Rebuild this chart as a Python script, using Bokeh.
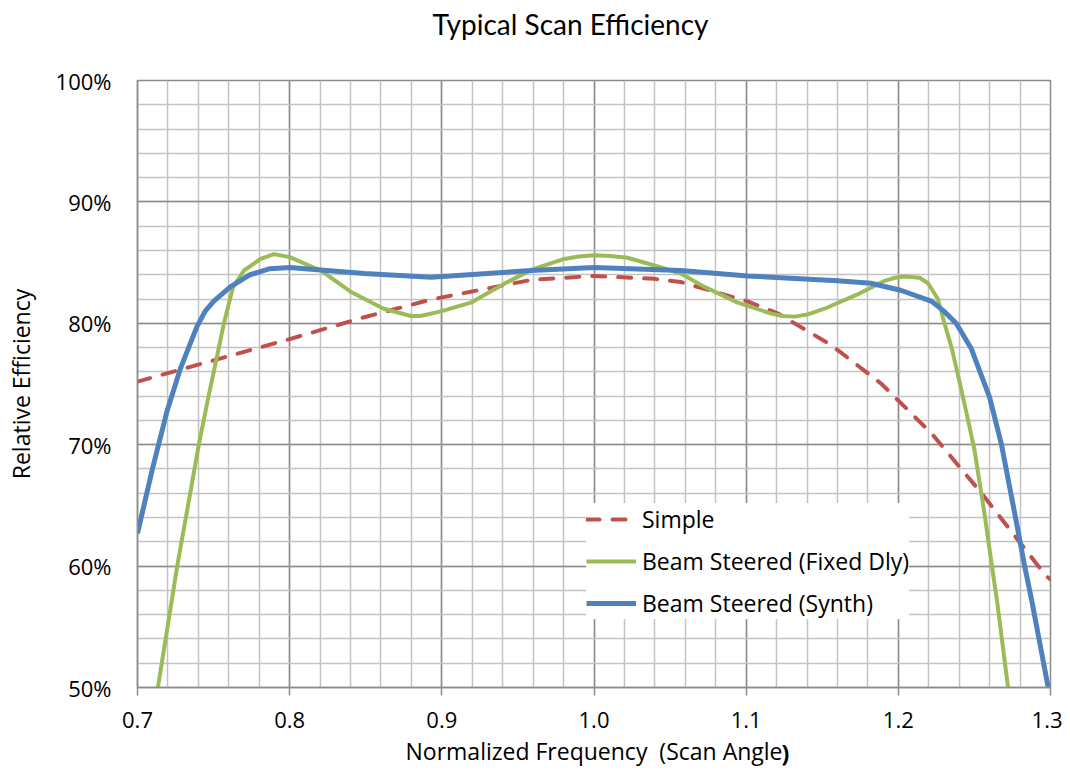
from bokeh.plotting import figure
from bokeh.models import FixedTicker, PrintfTickFormatter, Range1d, Legend, LegendItem, Title, Label
from bokeh.embed import file_html
from bokeh.resources import INLINE

# ---- data ----
simple_x = [0.700, 0.780, 0.800, 0.849, 0.893, 0.919, 0.959, 1.000, 1.040, 1.057,
            1.101, 1.121, 1.156, 1.189, 1.222, 1.255, 1.297, 1.300]
simple_y = [75.2, 78.0, 78.7, 80.5, 81.96, 82.6, 83.58, 83.9, 83.66, 83.4,
            81.8, 80.8, 78.2, 75.0, 70.9, 65.96, 59.2, 58.9]

fixed_x = [0.7134, 0.7261, 0.7403, 0.7467, 0.7518, 0.7568, 0.7628, 0.7700, 0.7809, 0.7897,
           0.800, 0.8204, 0.840, 0.8618, 0.8796, 0.886, 0.900, 0.919, 0.941, 0.9586,
           0.9805, 0.990, 1.000, 1.011, 1.022, 1.0397, 1.057, 1.0726, 1.0945, 1.1164,
           1.124, 1.1318, 1.141, 1.1515, 1.1735, 1.191, 1.198, 1.2042, 1.214, 1.2195,
           1.226, 1.2303, 1.235, 1.240, 1.245, 1.250, 1.257, 1.2615, 1.265, 1.2721]
fixed_y = [50.0, 60.0, 70.0, 74.0, 77.0, 80.0, 83.0, 84.35, 85.3, 85.7,
           85.45, 84.35, 82.6, 81.2, 80.6, 80.6, 81.0, 81.7, 83.25, 84.4,
           85.3, 85.5, 85.6, 85.55, 85.4, 84.76, 84.1, 83.0, 81.7, 80.8,
           80.6, 80.55, 80.75, 81.2, 82.4, 83.5, 83.75, 83.85, 83.75, 83.3,
           82.0, 80.0, 78.0, 75.3, 72.5, 69.6, 64.0, 60.0, 57.0, 50.0]

synth_x = [0.700, 0.710, 0.7195, 0.728, 0.739, 0.7445, 0.750, 0.761, 0.774, 0.787, 0.800,
           0.849, 0.893, 0.9586, 1.000, 1.057, 1.101, 1.160, 1.182, 1.202, 1.222,
           1.230, 1.238, 1.248, 1.260, 1.2678, 1.277, 1.283, 1.2876, 1.2985]
synth_y = [62.7, 68.1, 72.8, 76.2, 79.7, 81.0, 81.8, 83.0, 84.0, 84.5, 84.6,
           84.1, 83.8, 84.35, 84.6, 84.35, 83.9, 83.5, 83.3, 82.7, 81.8,
           81.0, 80.0, 77.9, 73.9, 70.0, 64.0, 60.0, 57.2, 50.0]

x_major = [0.7, 0.8, 0.9, 1.0, 1.1, 1.2, 1.3]
x_minor = [round(0.7 + 0.02 * i, 2) for i in range(31)]
y_major = [50, 60, 70, 80, 90, 100]
y_minor = list(range(50, 101, 2))

title_text = "Typical Scan Efficiency"
xlabel_text = "Normalized Frequency\u00a0 (Scan Angle"
xlabel_end = ")"
ylabel_text = "Relative Efficiency"
names = ["Simple", "Beam Steered (Fixed Dly)", "Beam Steered (Synth)"]

FONT = "Open Sans"
GRID_MAJOR = "#8c8c8c"
GRID_MINOR = "#c3c3c3"

p = figure(frame_width=913, frame_height=607,
           min_border_left=137, min_border_right=12, min_border_top=80, min_border_bottom=79,
           x_range=Range1d(0.7, 1.3), y_range=Range1d(50, 100),
           output_backend="svg", toolbar_location=None, background_fill_color="white",
           border_fill_color="white")

p.title.text = title_text
p.title.align = "left"
p.title.offset = 295
p.title.vertical_align = "top"
p.title.text_font = "Lato"
p.title.text_font_size = "28px"
p.title.text_font_style = "normal"
p.title.text_color = "#000000"
p.title.standoff = 12

# empty spacer between the title and the plot frame
p.add_layout(Title(text=" ", text_font_size="2px", standoff=28), "above")

p.xaxis.ticker = FixedTicker(ticks=x_major, minor_ticks=x_minor)
p.yaxis.ticker = FixedTicker(ticks=y_major, minor_ticks=y_minor)
p.xaxis.formatter = PrintfTickFormatter(format="%.1f")
p.yaxis.formatter = PrintfTickFormatter(format="%d%%")

for ax in (p.xaxis, p.yaxis):
    ax.axis_line_color = GRID_MAJOR
    ax.axis_line_width = 1.5
    ax.major_tick_line_color = GRID_MAJOR
    ax.major_tick_line_width = 1.5
    ax.major_tick_in = 0
    ax.minor_tick_line_color = None
    ax.major_label_text_font = FONT
    ax.major_label_text_font_size = "22px"
    ax.major_label_text_color = "#000000"
    ax.axis_label_text_font = FONT
    ax.axis_label_text_font_size = "23px"
    ax.axis_label_text_font_style = "normal"
    ax.axis_label_text_color = "#000000"

p.xaxis.major_tick_out = 8
p.xaxis.major_label_standoff = 16
p.yaxis.major_tick_out = 0
p.yaxis.major_label_standoff = 22

p.yaxis.axis_label = ylabel_text
p.yaxis.axis_label_standoff = 16

p.xaxis.axis_label = xlabel_text
p.xaxis.axis_label_standoff = 4

# bold closing parenthesis right after the axis title (drawn from the narrow right panel)
p.add_layout(Label(x=-269, y=-65, x_units="screen", y_units="screen", text=xlabel_end,
                   text_align="left", text_baseline="middle", text_font=FONT,
                   text_font_size="23px", text_font_style="bold", text_color="#000000"), "right")

p.xgrid.ticker = FixedTicker(ticks=x_major, minor_ticks=x_minor)
p.ygrid.ticker = FixedTicker(ticks=y_major, minor_ticks=y_minor)
for g in (p.xgrid, p.ygrid):
    g.grid_line_color = GRID_MAJOR
    g.grid_line_width = 1.5
    g.minor_grid_line_color = GRID_MINOR
    g.minor_grid_line_width = 1.5
    g.level = "underlay"
p.outline_line_color = GRID_MAJOR
p.outline_line_width = 1.5

r_simple = p.line(simple_x, simple_y, line_color="#C0504D", line_width=4,
                  line_dash="13 13", line_cap="round", line_join="round")
r_fixed = p.line(fixed_x, fixed_y, line_color="#9BBB59", line_width=4, line_join="round")
r_synth = p.line(synth_x, synth_y, line_color="#4F81BD", line_width=5, line_join="round")

legend = Legend(items=[LegendItem(label=names[0], renderers=[r_simple]),
                       LegendItem(label=names[1], renderers=[r_fixed]),
                       LegendItem(label=names[2], renderers=[r_synth])],
                location=(449, 68), orientation="vertical",
                border_line_color=None, background_fill_color="white", background_fill_alpha=1.0,
                glyph_width=50, glyph_height=28, label_height=28, spacing=10, padding=10,
                label_standoff=6, margin=0,
                label_text_font=FONT, label_text_font_size="23px", label_text_color="#000000")
p.add_layout(legend, "center")

open("out.html", "w").write(file_html(p, INLINE))
